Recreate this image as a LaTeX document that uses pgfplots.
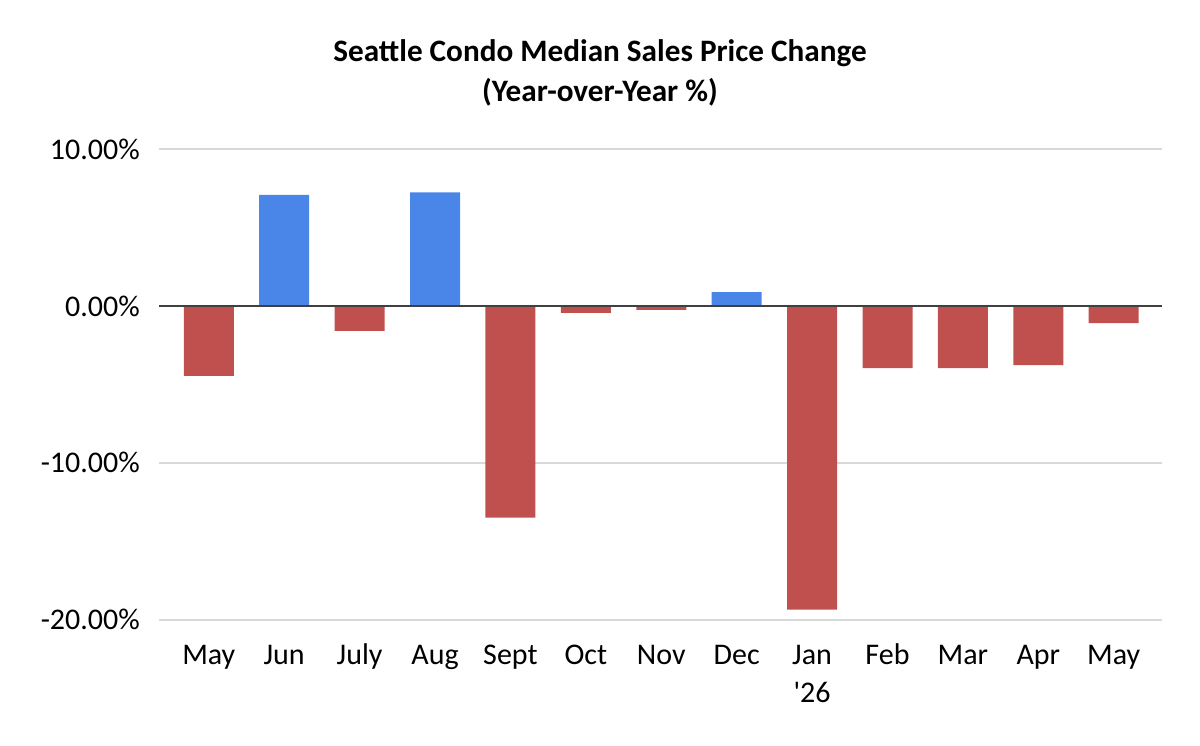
\documentclass[border=0pt]{standalone}
\usepackage{fontspec}
\setmainfont{Carlito}
\usepackage{pgfplots}
\pgfplotsset{compat=1.18}
\definecolor{posblue}{HTML}{4A86E8}
\definecolor{negred}{HTML}{C0504D}
\definecolor{gridgray}{HTML}{D9D9D9}
\definecolor{zeroline}{HTML}{404040}
\begin{document}
\begin{tikzpicture}[x=1pt,y=1pt]
\path[use as bounding box] (0,0) rectangle (1200,745);
\node[anchor=base, inner sep=0pt, font=\fontsize{31.2}{36}\selectfont\bfseries] at (600,683) {Seattle Condo Median Sales Price Change};
\node[anchor=base, inner sep=0pt, font=\fontsize{31.2}{36}\selectfont\bfseries] at (600,643) {(Year-over-Year \%)};
\begin{axis}[
  at={(159pt,125.3pt)}, anchor=south west,
  scale only axis, width=1003pt, height=470.7pt,
  xmin=-0.66, xmax=12.64, ymin=-20, ymax=10,
  ybar, bar width=50pt, bar shift=0pt,
  axis line style={draw=none}, tick style={draw=none},
  ymajorgrids, grid style={gridgray, line width=2pt},
  ytick={-20,-10,0,10},
  yticklabels={-20.00\%,-10.00\%,0.00\%,10.00\%},
  yticklabel style={font=\fontsize{30}{36}\selectfont, anchor=east, inner sep=0pt, xshift=-19pt},
  xtick={0,1,2,3,4,5,6,7,8,9,10,11,12},
  xticklabels={May,Jun,July,Aug,Sept,Oct,Nov,Dec,{\begin{tabular}[t]{@{}c@{}}Jan\\\textquotesingle 26\end{tabular}},Feb,Mar,Apr,May},
  xticklabel style={font=\fontsize{30}{38}\selectfont, anchor=base, inner sep=0pt, yshift=-40.3pt},
]
\addplot[fill=posblue, draw=none] coordinates {(1,7.07) (3,7.24) (7,0.87)};
\addplot[fill=negred, draw=none] coordinates {(0,-4.46) (2,-1.59) (4,-13.50) (5,-0.45) (6,-0.25) (8,-19.35) (9,-3.97) (10,-3.97) (11,-3.78) (12,-1.10)};
\draw[zeroline, line width=2.5pt] (axis cs:-0.66,0) -- (axis cs:12.64,0);
\end{axis}
\end{tikzpicture}
\end{document}
